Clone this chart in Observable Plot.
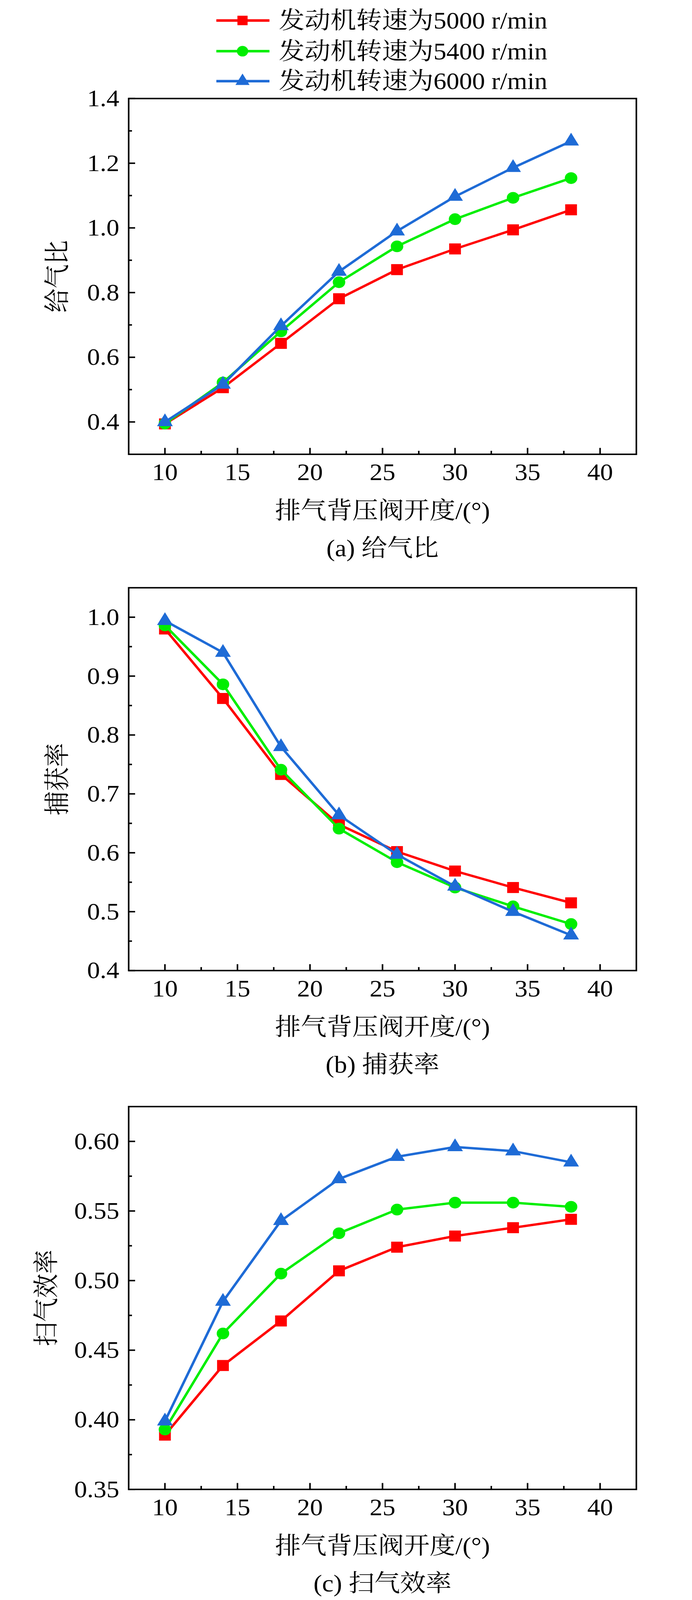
<!DOCTYPE html>
<html><head><meta charset="utf-8">
<script src="https://cdn.jsdelivr.net/npm/d3@7"></script>
<script src="https://cdn.jsdelivr.net/npm/@observablehq/plot@0.6"></script>
<style>
html,body{margin:0;padding:0;background:#fff;overflow:hidden;}
#page{position:relative;width:1772px;height:4376px;overflow:hidden;background:#fff;color:#000;transform-origin:0 0;
  font-family:"Liberation Serif","Times New Roman","Noto Serif CJK SC","Noto Sans CJK SC",serif;}
.fig{position:absolute;left:0;}
.leg{position:absolute;left:554px;height:84px;display:flex;align-items:center;font-size:66px;white-space:nowrap;line-height:1;}
.leg svg{margin-right:24px;flex:none;}
</style></head><body><div id="page"></div>
<script>
// ---- data ----
const opening = [10, 14, 18, 22, 26, 30, 34, 38];
const seriesNames = ["发动机转速为5000 r/min", "发动机转速为5400 r/min", "发动机转速为6000 r/min"];
const seriesColors = ["#ff0000", "#00ee00", "#1e6bd6"];
const seriesSymbols = ["square", "circle", "triangle"];
const seriesR = [17, 16, 15];
const legendR = [14.7, 14.5, 13.4];

const supply5000 = [0.394, 0.506, 0.643, 0.781, 0.871, 0.935, 0.994, 1.056];
const supply5400 = [0.395, 0.522, 0.680, 0.832, 0.943, 1.027, 1.093, 1.154];
const supply6000 = [0.400, 0.516, 0.697, 0.865, 0.990, 1.097, 1.186, 1.268];

const trap5000 = [0.980, 0.862, 0.733, 0.648, 0.602, 0.569, 0.541, 0.515];
const trap5400 = [0.986, 0.886, 0.741, 0.641, 0.584, 0.541, 0.509, 0.479];
const trap6000 = [0.994, 0.940, 0.780, 0.664, 0.597, 0.543, 0.500, 0.460];

const scav5000 = [0.389, 0.439, 0.471, 0.507, 0.524, 0.532, 0.538, 0.544];
const scav5400 = [0.393, 0.462, 0.505, 0.534, 0.551, 0.556, 0.556, 0.553];
const scav6000 = [0.399, 0.485, 0.543, 0.573, 0.589, 0.596, 0.593, 0.585];

const xTicks = [10, 15, 20, 25, 30, 35, 40];
const xMinor = [12.5, 17.5, 22.5, 27.5, 32.5, 37.5];
const supplyTicks = [0.4, 0.6, 0.8, 1.0, 1.2, 1.4];
const supplyMinor = [0.5, 0.7, 0.9, 1.1, 1.3];
const trapTicks = [0.4, 0.5, 0.6, 0.7, 0.8, 0.9, 1.0];
const trapMinor = [0.45, 0.55, 0.65, 0.75, 0.85, 0.95];
const scavTicks = [0.35, 0.40, 0.45, 0.50, 0.55, 0.60];
const scavMinor = [0.375, 0.425, 0.475, 0.525, 0.575];

const xLabel = "排气背压阀开度/(°)";
const FONT = '"Liberation Serif","Times New Roman","Noto Serif CJK SC","Noto Sans CJK SC",serif';

const page = document.getElementById("page");

// ---- legend ----
const legTops = [14, 98, 180];
seriesNames.forEach((name, i) => {
  const row = document.createElement("div");
  row.className = "leg";
  row.style.top = legTops[i] + "px";
  const ns = "http://www.w3.org/2000/svg";
  const svg = document.createElementNS(ns, "svg");
  svg.setAttribute("width", 136); svg.setAttribute("height", 84);
  const ln = document.createElementNS(ns, "line");
  ln.setAttribute("x1", 0); ln.setAttribute("x2", 136); ln.setAttribute("y1", 42); ln.setAttribute("y2", 42);
  ln.setAttribute("stroke", seriesColors[i]); ln.setAttribute("stroke-width", 7);
  svg.appendChild(ln);
  const symMap = {square: d3.symbolSquare, circle: d3.symbolCircle, triangle: d3.symbolTriangle};
  const p = document.createElementNS(ns, "path");
  p.setAttribute("d", d3.symbol(symMap[seriesSymbols[i]], Math.PI * legendR[i] * legendR[i])());
  p.setAttribute("transform", "translate(67,42)");
  p.setAttribute("fill", seriesColors[i]);
  svg.appendChild(p);
  row.appendChild(svg);
  const t = document.createElement("span");
  t.textContent = name;
  row.appendChild(t);
  page.appendChild(row);
});

// ---- panels ----
function panel({caption, yLabel, yLabelDx, series, yDomain, yTicks, yMinor, yFmt, frameH, top}) {
  const mt = 30, mb = 300, ml = 329, mr = 143, fw = 1300;
  const marks = [
    Plot.tickX(xTicks, {x: d => d, stroke: "#000", strokeWidth: 4, insetTop: frameH - 17}),
    Plot.tickX(xMinor, {x: d => d, stroke: "#000", strokeWidth: 4, insetTop: frameH - 9}),
    Plot.tickY(yTicks, {y: d => d, stroke: "#000", strokeWidth: 4, insetRight: fw - 17}),
    Plot.tickY(yMinor, {y: d => d, stroke: "#000", strokeWidth: 4, insetRight: fw - 9}),
    Plot.axisX(xTicks, {tickSize: 0, tickPadding: 24, fontSize: 66, fontFamily: FONT, tickFormat: d => String(d), label: null}),
    Plot.axisY(yTicks, {tickSize: 0, tickPadding: 24, fontSize: 66, fontFamily: FONT, tickFormat: d3.format(yFmt), label: null}),
  ];
  series.forEach((vals, si) => {
    const rows = opening.map((x, i) => ({x, y: vals[i]}));
    marks.push(Plot.line(rows, {x: "x", y: "y", stroke: seriesColors[si], strokeWidth: 6.5}));
    marks.push(Plot.dot(rows, {x: "x", y: "y", symbol: () => seriesSymbols[si], r: seriesR[si], fill: seriesColors[si], stroke: "none"}));
  });
  marks.push(Plot.frame({stroke: "#000", strokeWidth: 4}));
  marks.push(Plot.text([xLabel], {text: d => d, frameAnchor: "bottom", dy: 155, lineAnchor: "middle", textAnchor: "middle", fontSize: 66, fontFamily: FONT, fill: "#000"}));
  marks.push(Plot.text([caption], {text: d => d, frameAnchor: "bottom", dy: 258, lineAnchor: "middle", textAnchor: "middle", fontSize: 66, fontFamily: FONT, fill: "#000"}));
  marks.push(Plot.text([yLabel], {text: d => d, frameAnchor: "left", dx: yLabelDx, rotate: -90, lineAnchor: "middle", textAnchor: "middle", fontSize: 66, fontFamily: FONT, fill: "#000"}));

  const chart = Plot.plot({
    width: 1772,
    height: mt + frameH + mb,
    marginTop: mt, marginBottom: mb, marginLeft: ml, marginRight: mr,
    x: {domain: [7.5, 42.5]},
    y: {domain: yDomain},
    symbol: {type: "identity"},
    style: {fontFamily: FONT, fontSize: "66px", color: "#000", background: "transparent", overflow: "visible"},
    marks
  });
  const div = document.createElement("div");
  div.className = "fig";
  div.style.top = top + "px";
  div.appendChild(chart);
  page.appendChild(div);
}

panel({caption: "(a) 给气比", yLabel: "给气比", yLabelDx: -182, series: [supply5000, supply5400, supply6000],
  yDomain: [0.3, 1.4], yTicks: supplyTicks, yMinor: supplyMinor, yFmt: ".1f", frameH: 973, top: 239});
panel({caption: "(b) 捕获率", yLabel: "捕获率", yLabelDx: -182, series: [trap5000, trap5400, trap6000],
  yDomain: [0.4, 1.05], yTicks: trapTicks, yMinor: trapMinor, yFmt: ".1f", frameH: 1047, top: 1577});
panel({caption: "(c) 扫气效率", yLabel: "扫气效率", yLabelDx: -210, series: [scav5000, scav5400, scav6000],
  yDomain: [0.35, 0.625], yTicks: scavTicks, yMinor: scavMinor, yFmt: ".2f", frameH: 1047, top: 2996});

// fit the 1772x4376 layout into the visible viewport if it is smaller
const vw = document.documentElement.clientWidth || window.innerWidth;
const vh = document.documentElement.clientHeight || window.innerHeight;
const sx = Math.min(1, vw / 1772), sy = Math.min(1, vh / 4376);
if (sx < 1 || sy < 1) page.style.transform = `scale(${sx}, ${sy})`;
</script></body></html>
